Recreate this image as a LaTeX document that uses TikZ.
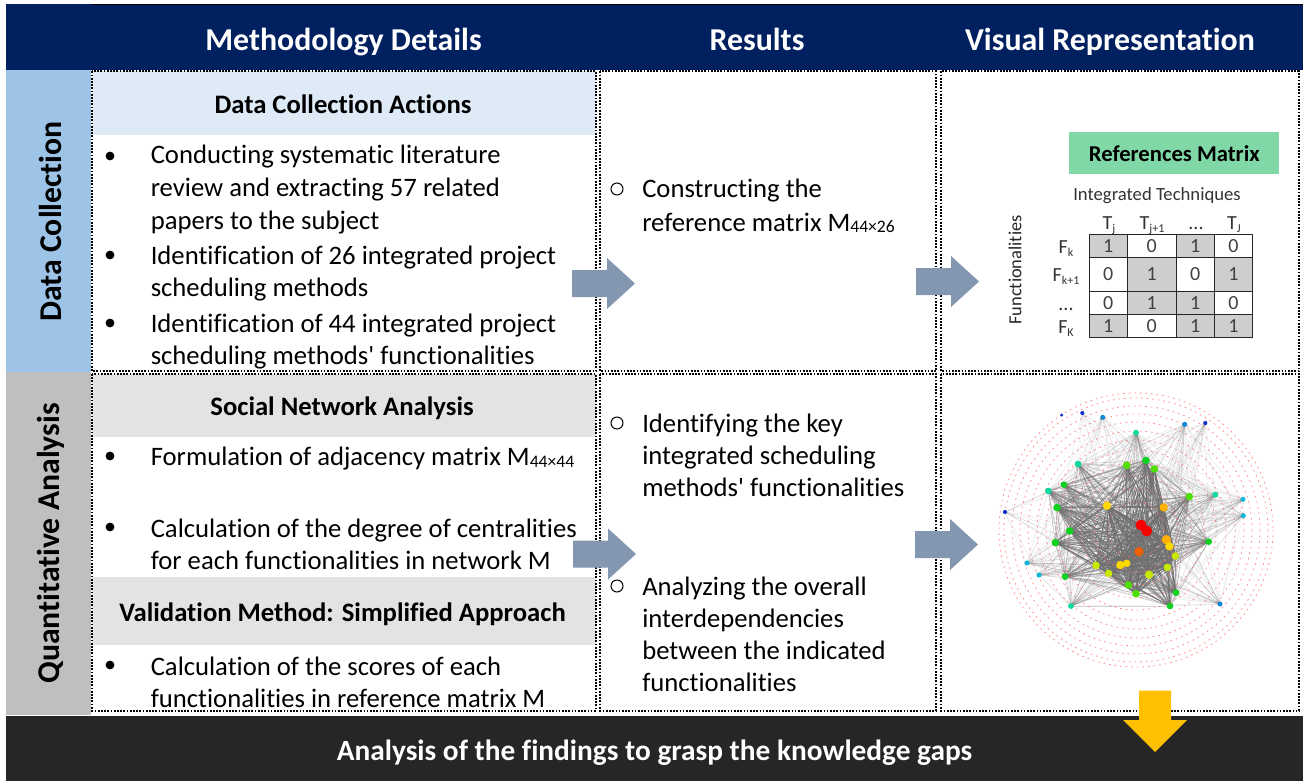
\documentclass[tikz,border=0pt]{standalone}
\usepackage{fontspec}
\setmainfont{Carlito}[Ligatures={TeXOff,CommonOff}]
\definecolor{navy}{HTML}{002060}
\definecolor{dark}{HTML}{262626}
\definecolor{sideblue}{HTML}{9DC3E6}
\definecolor{sidegray}{HTML}{BFBFBF}
\definecolor{barblue}{HTML}{DEEAF6}
\definecolor{bargray}{HTML}{E3E3E3}
\definecolor{arrowblue}{HTML}{8497B0}
\definecolor{gold}{HTML}{FFC000}
\definecolor{mint}{HTML}{7FD8A6}
\definecolor{cellgray}{HTML}{CFCDCD}
\definecolor{nb}{HTML}{1030C8}
\definecolor{nl}{HTML}{1088D8}
\definecolor{nc}{HTML}{10B8D8}
\definecolor{nt}{HTML}{10D8A0}
\definecolor{ng}{HTML}{10D020}
\definecolor{nv}{HTML}{50E000}
\definecolor{nw}{HTML}{C8E800}
\definecolor{ny}{HTML}{FFD800}
\definecolor{nq}{HTML}{FFB000}
\definecolor{no}{HTML}{F06000}
\definecolor{nr}{HTML}{F80000}
\newcommand{\fs}[1]{\fontsize{#1}{#1}\selectfont}
\newcommand{\subt}[1]{\raisebox{-1.5pt}{\fs{13.2}#1}}
\tikzset{
 x=0.75pt,y=-0.75pt,
 head/.style={text=white,font=\fs{23.9}\bfseries,anchor=base},
 cellbox/.style={draw=black!85,line width=0.7pt,inner sep=0,text=black!75,font=\fs{15}},
 dotbox/.style={draw=black,line width=1.5pt,dash pattern=on 1.3pt off 1.1pt},
 bartitle/.style={font=\fs{20}\bfseries,anchor=base,text=black},
 body/.style={font=\fs{20},anchor=base west,inner sep=0,text=black},
 bullet/.style={circle,fill=black,inner sep=0,minimum size=6.6pt},
 ring/.style={draw=red!60,line width=0.65pt,dash pattern=on 1.2pt off 3pt,opacity=.7},
 mlabel/.style={anchor=base,inner sep=0,text=black!80,font=\fs{15}},
}
\pgfmathsetseed{4242}
\begin{document}
\begin{tikzpicture}
\useasboundingbox (0,0) rectangle (1303,781);
\fill[white] (0,0) rectangle (1303,781);
% bands
\fill[navy] (6,4) rectangle (1303,70);
\draw[black,line width=1pt] (92,4.5) -- (1303,4.5);
\fill[sideblue] (6,70) rectangle (91,372);
\fill[sidegray] (6,372) rectangle (91,715);
\fill[barblue] (92,71) rectangle (596,135);
\fill[bargray] (92,374) rectangle (596,437);
\fill[bargray] (92,577) rectangle (596,645);
\fill[dark] (6,716) rectangle (1303,781);
% dotted boxes
\draw[dotbox] (92,71.5) rectangle (596,371);
\draw[dotbox] (600,71.5) rectangle (936,371);
\draw[dotbox] (941,71.5) rectangle (1299,371);
\draw[dotbox] (92,374) rectangle (596,710.5);
\draw[dotbox] (600,374) rectangle (936,710.5);
\draw[dotbox] (941,374) rectangle (1299,710.5);
% headers
\node[head] (h1) at (343.5,51) {Methodology Details};
\node[head] (h2) at (757,51) {Results};
\node[head] (h3) at (1110,51) {Visual Representation};
\node[font=\fs{23.8}\bfseries,rotate=90,text=black] (s1) at (50.5,221.5) {Data Collection};
\node[font=\fs{23.8}\bfseries,rotate=90,text=black] (s2) at (50.5,543.5) {Quantitative Analysis};
\node[head,font=\fs{22}\bfseries] (foot) at (654.5,760) {Analysis of the findings to grasp the knowledge gaps};
% bar titles
\node[bartitle] (b1) at (343,114) {Data Collection Actions};
\node[bartitle] (b2) at (342,415) {Social Network Analysis};
\node[bartitle] (b3) at (342.5,621) {Validation Method: Simplified Approach};
% left column text
\foreach \nm/\y/\t in {a/164/{Conducting systematic literature},
 b/197/{review and extracting 57 related},
 c/229/{papers to the subject},
 d/264/{Identification of 26 integrated project},
 e/296/{scheduling methods},
 f/332/{Identification of 44 integrated project},
 g/364/{scheduling methods' functionalities},
 i/465/{Formulation of adjacency matrix M\subt{44×44}},
 j/537/{Calculation of the degree of centralities},
 k/569/{for each functionalities in network M},
 l/675/{Calculation of the scores of each},
 m/707/{functionalities in reference matrix M}}
 \node[body] (t\nm) at (150.5,\y) {\t};
\foreach \nm/\y in {a/156,d/255,f/323,i/456,j/527,l/665}
 \node[bullet] (p\nm) at (110,\y) {};
% results
\foreach \nm/\y/\t in {a/198/{Constructing the},
 b/231/{reference matrix M\subt{44×26}},
 c/432/{Identifying the key},
 d/464/{integrated scheduling},
 e/496/{methods' functionalities},
 f/595/{Analyzing the overall},
 g/627/{interdependencies},
 h/659/{between the indicated},
 i/691/{functionalities}}
 \node[body] (r\nm) at (642,\y) {\t};
\foreach \nm/\y in {a/189,c/423,f/586}
 \node[circle,draw=black,line width=0.75pt,inner sep=0,minimum size=9pt] (q\nm) at (617,\y) {};
% arrows
\foreach \nm/\x/\y in {a/572/283.5,b/573/554,c/916/281.5,d/915/544.5}
 \fill[arrowblue] (\x,\y-13.5) -- ++(35,0) -- ++(0,-12) -- ++(28,25.5) -- ++(-28,25.5) -- ++(0,-12) -- ++(-35,0) -- cycle;
% reference matrix
\node[fill=mint,font=\fs{17}\bfseries,inner sep=0,minimum width=157.5pt,minimum height=31.5pt,text=black] (rm) at (1174.3,153.3) {\raisebox{-0.8pt}{References Matrix}};
\node[font=\fs{14},text=black!80,inner sep=0] (it) at (1157,196) {Integrated Techniques};
\node[font=\fs{13.8},text=black!85,rotate=90,inner sep=0] (fn) at (1015,270) {Functionalities};
\foreach \nm/\xa/\xb/\ya/\yb/\f/\v in {
 a/1089.3/1127.3/234.3/257.7/cellgray/1,b/1127.3/1176/234.3/257.7/white/0,c/1176/1214.3/234.3/257.7/cellgray/1,d/1214.3/1252.7/234.3/257.7/white/0,
 e/1089.3/1127.3/257.7/291/white/0,f/1127.3/1176/257.7/291/cellgray/1,g/1176/1214.3/257.7/291/white/0,h/1214.3/1252.7/257.7/291/cellgray/1,
 i/1089.3/1127.3/291/314.3/white/0,j/1127.3/1176/291/314.3/cellgray/1,k/1176/1214.3/291/314.3/cellgray/1,l/1214.3/1252.7/291/314.3/white/0,
 m/1089.3/1127.3/314.3/337.7/cellgray/1,n/1127.3/1176/314.3/337.7/white/0,o/1176/1214.3/314.3/337.7/cellgray/1,p/1214.3/1252.7/314.3/337.7/cellgray/1}
{
 \pgfmathsetmacro{\cx}{(\xa+\xb)/2}\pgfmathsetmacro{\cy}{(\ya+\yb)/2}
 \pgfmathsetmacro{\cw}{(\xb-\xa)*0.75}\pgfmathsetmacro{\chh}{(\yb-\ya)*0.75}
 \node[cellbox,fill=\f,minimum width=\cw pt,minimum height=\chh pt] (c\nm) at (\cx,\cy) {\v};
}
\newcommand{\subl}[2]{#1\raisebox{-2.5pt}{\fs{9}#2}}
\foreach \nm/\x/\t in {a/1109/{\subl{T}{j}},b/1152/{\subl{T}{j+1}},c/1196/{...},d/1234/{\subl{T}{J}}}
 \node[mlabel] (ct\nm) at (\x,229) {\t};
\foreach \nm/\y/\t in {a/253/{\subl{F}{k}},b/281/{\subl{F}{k+1}},c/310/{...},d/333/{\subl{F}{K}}}
 \node[mlabel] (rt\nm) at (1066,\y) {\t};
% network nodes
\foreach \n/\x/\y/\c/\d in {
1/305/75/nb/4,2/367/69/nb/5,3/428/82/nl/6,4/528/128/nt/7,5/674/103/nl/6,6/736/99/nb/5,
7/354/222/nt/8,8/500/226/nv/9,9/558/211/ng/9,10/583/237/nv/9,11/265/303/nt/8,12/312/284/ng/8,
13/291/353/ng/9,14/441/347/ny/10,15/611/352/nq/10,16/688/320/nv/9,17/766/314/nt/7,18/849/328/nc/6,
19/850/377/nc/6,20/135/366/nb/5,21/329/423/ng/9,22/286/458/ng/9,23/543/405/nr/13,24/560/423/nr/13,
25/619/449/nq/11,26/628/469/ny/10,27/746/455/ng/8,28/537/485/no/11,29/646/498/nw/9,30/622/532/nw/9,
31/567/554/nw/10,32/481/525/ny/10,33/500/520/ny/9,34/408/526/nw/9,35/446/550/nw/9,36/505/585/nv/9,
37/528/611/nv/9,38/648/608/ng/8,39/630/648/ng/8,40/780/642/nl/6,41/333/648/nt/7,42/315/560/ng/8,
43/237/555/nc/6,44/201/519/nc/6}
{
 \coordinate (n\n) at ({960+\x/3},{390+\y/3});
}
% edges
\def\wts{{0,.0,.3,.5,.75,.55,.5,.8,.92,.95,.95,.85,.85,.92,1,1,.88,.72,.6,.6,.3,.92,.92,1,1,1,1,.85,1,1,1,1,1,1,1,1,.97,.97,.92,.92,.6,.75,.85,.6,.6}}
\foreach \i in {1,...,43}{
 \pgfmathtruncatemacro{\ns}{\i+1}
 \foreach \j in {\ns,...,44}{
  \pgfmathsetmacro{\ww}{\wts[\i]*\wts[\j]}
  \pgfmathtruncatemacro{\keep}{(\ww-rnd*0.8)>0?1:0}
  \pgfmathsetmacro{\oo}{0.16+0.84*\ww*\ww*\ww*\ww*\ww}
  \pgfmathsetmacro{\lw}{0.3+0.42*\ww*\ww*\ww*\ww*\ww}
  \ifnum\keep=1 \draw[black!56,line width=\lw pt,opacity=\oo] (n\i) -- (n\j);\fi
 }
}
% network rings
\foreach \r in {137,132,124,116,108,99,90,80,68,55,42,28}
 \draw[ring] (1136,530) circle[radius=\r];
\foreach \n/\x/\y/\c/\d in {
1/305/75/nb/4,2/367/69/nb/5,3/428/82/nl/6,4/528/128/nt/7,5/674/103/nl/6,6/736/99/nb/5,
7/354/222/nt/8,8/500/226/nv/9,9/558/211/ng/9,10/583/237/nv/9,11/265/303/nt/8,12/312/284/ng/8,
13/291/353/ng/9,14/441/347/ny/10,15/611/352/nq/10,16/688/320/nv/9,17/766/314/nt/7,18/849/328/nc/6,
19/850/377/nc/6,20/135/366/nb/5,21/329/423/ng/9,22/286/458/ng/9,23/543/405/nr/13,24/560/423/nr/13,
25/619/449/nq/11,26/628/469/ny/10,27/746/455/ng/8,28/537/485/no/11,29/646/498/nw/9,30/622/532/nw/9,
31/567/554/nw/10,32/481/525/ny/10,33/500/520/ny/9,34/408/526/nw/9,35/446/550/nw/9,36/505/585/nv/9,
37/528/611/nv/9,38/648/608/ng/8,39/630/648/ng/8,40/780/642/nl/6,41/333/648/nt/7,42/315/560/ng/8,
43/237/555/nc/6,44/201/519/nc/6}
{
 \fill[\c] (n\n) circle[radius=\d*0.42];
}
% gold arrow
\fill[gold] (1139,690.5) -- (1171,690.5) -- (1171,720) -- (1187,720) -- (1155,752) -- (1123,720) -- (1139,720) -- cycle;
\end{tikzpicture}
\end{document}
